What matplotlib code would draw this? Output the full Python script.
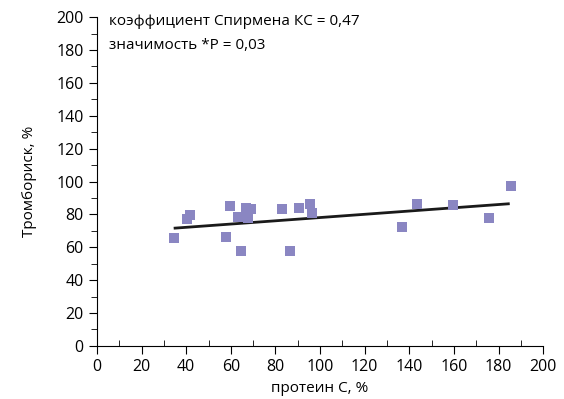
import matplotlib
matplotlib.use('Agg')
import matplotlib.pyplot as plt
from matplotlib.ticker import MultipleLocator
import numpy as np

plt.rcParams['font.family'] = ['Open Sans', 'DejaVu Sans']

# data
protein_c = [34.7, 40.5, 41.8, 58.0, 59.8, 63.4, 64.7, 67.0, 67.8, 69.2,
             83.1, 86.3, 90.7, 95.6, 96.5, 136.9, 143.6, 159.8, 175.9, 185.8]
thrombo = [65.5, 77.0, 79.4, 66.1, 84.9, 78.2, 57.6, 83.7, 77.6, 83.1,
           83.1, 57.6, 83.7, 86.1, 80.6, 72.1, 86.1, 85.5, 77.6, 97.1]

# trend line as drawn in the source (slope, intercept)
trend_k = 0.099
trend_b = 68.2
trend_range = [35, 184.4]

fig = plt.figure(figsize=(5.64, 3.99), dpi=100)
ax = fig.add_axes([0.172, 0.133, 0.791, 0.824])

ax.scatter(protein_c, thrombo, marker='s', s=48, color='#8a86c2', zorder=3, linewidths=0)

xs = np.array(trend_range)
ax.plot(xs, trend_k * xs + trend_b, color='#1a1a1a', lw=2, zorder=2)

ax.set_xlim(0, 200)
ax.set_ylim(0, 200)
ax.xaxis.set_major_locator(MultipleLocator(20))
ax.xaxis.set_minor_locator(MultipleLocator(10))
ax.yaxis.set_major_locator(MultipleLocator(20))
ax.yaxis.set_minor_locator(MultipleLocator(10))
ax.tick_params(axis='x', which='major', direction='out', length=6, labelsize=11.5)
ax.tick_params(axis='x', which='minor', direction='in', length=4)
ax.tick_params(axis='y', which='major', direction='out', length=6, labelsize=11.5)
ax.tick_params(axis='y', which='minor', direction='out', length=4)

ax.spines['top'].set_visible(False)
ax.spines['right'].set_visible(False)

ax.set_xlabel('протеин С, %', fontsize=11)
ax.set_ylabel('Тромбориск, %', fontsize=11, labelpad=14)

ax.text(0.027, 1.01, 'коэффициент Спирмена КС = 0,47', transform=ax.transAxes,
        fontsize=11, va='top')
ax.text(0.027, 0.937, 'значимость *Р = 0,03', transform=ax.transAxes,
        fontsize=11, va='top')

fig.savefig('out.png', dpi=100)
